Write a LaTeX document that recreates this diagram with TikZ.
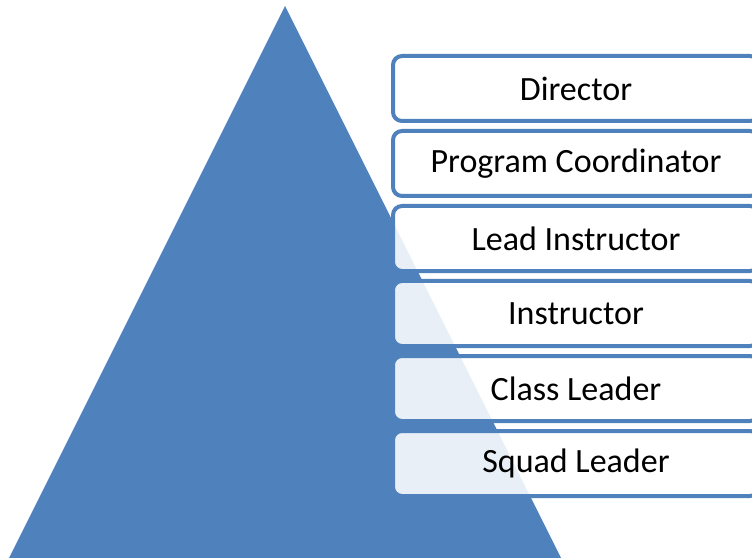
\documentclass[tikz,border=0pt]{standalone}
\usepackage{fontspec}
\setmainfont{Carlito}
\definecolor{offblue}{HTML}{4F81BD}
\begin{document}
\begin{tikzpicture}[x=1bp,y=-1bp,
  levelbox/.style={draw=offblue, line width=4bp, fill=white, fill opacity=0.88, text opacity=1,
    rounded corners=9bp, minimum width=366bp, minimum height=65bp, inner sep=0pt,
    font=\fontsize{34bp}{40bp}\selectfont, text=black}]
\useasboundingbox (0,0) rectangle (752,558);
\clip (0,0) rectangle (752,558);
\fill[offblue] (285,6) -- (4,568) -- (566,568) -- cycle;
\node[levelbox] (director) at (576,88.5) {Director};
\node[levelbox] (coord) at (576,163.5) {Program Coordinator};
\node[levelbox] (lead) at (576,238.5) {Lead Instructor};
\node[levelbox] (instr) at (576,313.5) {Instructor};
\node[levelbox] (class) at (576,388.5) {Class Leader};
\node[levelbox] (squad) at (576,463.5) {Squad Leader};
\end{tikzpicture}
\end{document}
